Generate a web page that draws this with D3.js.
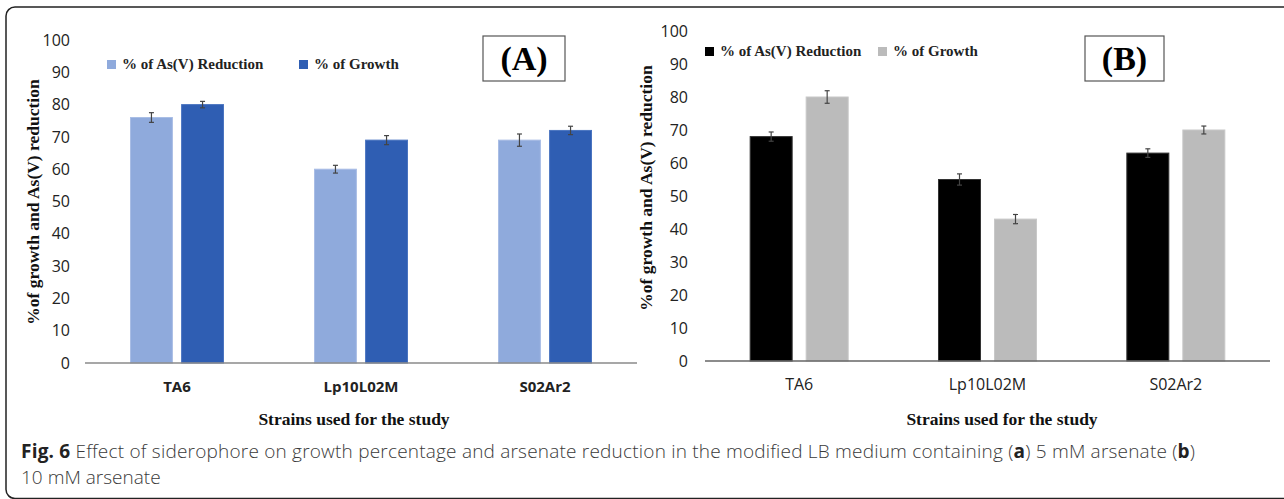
<!DOCTYPE html>
<html>
<head>
<meta charset="utf-8">
<script src="https://cdn.jsdelivr.net/npm/d3@7/dist/d3.min.js"></script>
<style>
  body { margin: 0; background: #fff; }
  svg { display: block; }
</style>
</head>
<body>
<svg id="fig" width="1284" height="499"></svg>
<script>
// strains on the x axis
const strains = ["TA6", "Lp10L02M", "S02Ar2"];
const seriesNames = ["% of As(V) Reduction", "% of Growth"];
const yTicks = [0, 10, 20, 30, 40, 50, 60, 70, 80, 90, 100];

// panel A (5 mM arsenate)
const reductionA = [76, 60, 69];
const reductionErrA = [1.5, 1.2, 1.9];
const growthA = [80, 69, 72];
const growthErrA = [1.0, 1.4, 1.3];

// panel B (10 mM arsenate)
const reductionB = [68, 55, 63];
const reductionErrB = [1.4, 1.7, 1.3];
const growthB = [80, 43, 70];
const growthErrB = [1.9, 1.4, 1.2];

const svg = d3.select("#fig");

// outer frame
svg.append("rect")
    .attr("x", 6).attr("y", 7)
    .attr("width", 1300).attr("height", 491.5)
    .attr("rx", 9)
    .attr("fill", "none")
    .attr("stroke", "#222")
    .attr("stroke-width", 1.5);

function drawPanel(opt) {
    let g = svg.append("g");

    let x = d3.scaleBand()
        .domain(strains)
        .range([opt.x0, opt.x1]);

    let inner = d3.scaleBand()
        .domain([0, 1])
        .range([x.bandwidth() / 2 - opt.group / 2, x.bandwidth() / 2 + opt.group / 2])
        .paddingInner(opt.gap);

    let y = d3.scaleLinear()
        .domain([0, 100])
        .range([opt.yBottom, opt.yTop]);

    // y tick labels (no axis line)
    let yAxis = d3.axisLeft(y).tickValues(yTicks).tickSize(0).tickPadding(0);
    let ya = g.append("g")
        .attr("transform", "translate(" + opt.labelX + ",0)")
        .call(yAxis);
    ya.select(".domain").remove();
    ya.selectAll("text")
        .attr("font-family", "'Open Sans', sans-serif")
        .attr("font-size", 16)
        .attr("fill", "#222");

    let rows = strains.map((s, i) => ({
        strain: s,
        vals: [
            { k: 0, v: opt.red[i], e: opt.redErr[i] },
            { k: 1, v: opt.gro[i], e: opt.groErr[i] }
        ]
    }));

    let grp = g.selectAll(".grp")
        .data(rows)
        .join("g")
        .attr("transform", d => "translate(" + x(d.strain) + ",0)");

    grp.selectAll("rect")
        .data(d => d.vals)
        .join("rect")
        .attr("x", d => inner(d.k))
        .attr("width", inner.bandwidth())
        .attr("y", d => y(d.v))
        .attr("height", d => y(0) - y(d.v))
        .attr("fill", d => opt.colors[d.k])
        .attr("stroke", d => opt.edge[d.k])
        .attr("stroke-width", 1);

    // error bars
    let eb = grp.selectAll(".err")
        .data(d => d.vals)
        .join("g")
        .attr("class", "err")
        .attr("stroke", "#444")
        .attr("stroke-width", 1.2);
    eb.append("line")
        .attr("x1", d => inner(d.k) + inner.bandwidth() / 2)
        .attr("x2", d => inner(d.k) + inner.bandwidth() / 2)
        .attr("y1", d => y(d.v + d.e))
        .attr("y2", d => y(d.v - d.e));
    [1, -1].forEach(sgn => {
        eb.append("line")
            .attr("x1", d => inner(d.k) + inner.bandwidth() / 2 - 2.5)
            .attr("x2", d => inner(d.k) + inner.bandwidth() / 2 + 2.5)
            .attr("y1", d => y(d.v + sgn * d.e))
            .attr("y2", d => y(d.v + sgn * d.e));
    });

    // baseline
    g.append("line")
        .attr("x1", opt.x0).attr("x2", opt.x1)
        .attr("y1", y(0)).attr("y2", y(0))
        .attr("stroke", opt.axisColor)
        .attr("stroke-width", 1.5);

    // x tick labels
    g.selectAll(".xl")
        .data(strains)
        .join("text")
        .attr("x", d => x(d) + x.bandwidth() / 2)
        .attr("y", opt.xLabelY)
        .attr("text-anchor", "middle")
        .attr("font-family", "'Open Sans', sans-serif")
        .attr("font-size", opt.xBold ? 15 : 16)
        .attr("font-weight", opt.xBold ? "bold" : "normal")
        .attr("fill", "#222")
        .text(d => d);

    // x title
    g.append("text")
        .attr("x", opt.xTitleX)
        .attr("y", 425)
        .attr("text-anchor", "middle")
        .attr("font-family", "'Liberation Serif', serif")
        .attr("font-weight", "bold")
        .attr("font-size", 17.5)
        .attr("fill", "#111")
        .text("Strains used for the study");

    // y title
    g.append("text")
        .attr("transform", "translate(" + opt.yTitleX + "," + opt.yTitleY + ") rotate(-90)")
        .attr("text-anchor", "middle")
        .attr("font-family", "'Liberation Serif', serif")
        .attr("font-weight", "bold")
        .attr("font-size", 17.5)
        .attr("fill", "#111")
        .text("%of growth and As(V) reduction");

    // legend
    let leg = g.selectAll(".leg")
        .data(seriesNames)
        .join("g")
        .attr("transform", (d, i) => "translate(" + opt.legX[i] + "," + opt.legY + ")");
    leg.append("rect")
        .attr("x", 0).attr("y", -9)
        .attr("width", 9).attr("height", 9)
        .attr("fill", (d, i) => opt.colors[i]);
    leg.append("text")
        .attr("x", 15)
        .attr("y", 0)
        .attr("font-family", "'Liberation Serif', serif")
        .attr("font-weight", "bold")
        .attr("font-size", 15)
        .attr("fill", "#222")
        .text(d => d);

    // panel tag box
    g.append("rect")
        .attr("x", opt.box[0]).attr("y", 36)
        .attr("width", opt.box[1]).attr("height", 45)
        .attr("fill", "#fff")
        .attr("stroke", "#555")
        .attr("stroke-width", 1.2);
    g.append("text")
        .attr("x", opt.box[0] + opt.box[1] / 2)
        .attr("y", 70)
        .attr("text-anchor", "middle")
        .attr("font-family", "'Liberation Serif', serif")
        .attr("font-weight", "bold")
        .attr("font-size", 34)
        .attr("fill", "#000")
        .text(opt.tag);
}

drawPanel({
    tag: "(A)",
    red: reductionA, redErr: reductionErrA, gro: growthA, groErr: growthErrA,
    x0: 85, x1: 637, group: 93, gap: 0.18,
    yTop: 40, yBottom: 363, labelX: 70,
    colors: ["#8faadc", "#2f5eb3"],
    edge: ["#a9bde5", "#4a74c0"],
    axisColor: "#8a8a8a",
    xBold: true, xLabelY: 392,
    xTitleX: 354, yTitleX: 39, yTitleY: 202,
    legX: [107, 299], legY: 69,
    box: [483, 82]
});

drawPanel({
    tag: "(B)",
    red: reductionB, redErr: reductionErrB, gro: growthB, groErr: growthErrB,
    x0: 705, x1: 1270, group: 98, gap: 0.25,
    yTop: 31, yBottom: 361, labelX: 688,
    colors: ["#000000", "#bbbbbb"],
    edge: ["#333333", "#c8c8c8"],
    axisColor: "#666",
    xBold: false, xLabelY: 390,
    xTitleX: 1002, yTitleX: 652, yTitleY: 188,
    legX: [705, 878], legY: 56,
    box: [1085, 79]
});

// caption
const caption = svg.append("g")
    .attr("font-family", "'Open Sans', sans-serif")
    .attr("font-size", 19)
    .attr("font-weight", 300)
    .attr("fill", "#3a3a3a");
let l1 = caption.append("text").attr("x", 21).attr("y", 458)
    .attr("textLength", 1174)
    .attr("lengthAdjust", "spacing");
l1.append("tspan").attr("font-weight", "bold").attr("fill", "#222").text("Fig. 6");
l1.append("tspan").text(" Effect of siderophore on growth percentage and arsenate reduction in the modified LB medium containing (");
l1.append("tspan").attr("font-weight", "bold").attr("fill", "#222").text("a");
l1.append("tspan").text(") 5 mM arsenate (");
l1.append("tspan").attr("font-weight", "bold").attr("fill", "#222").text("b");
l1.append("tspan").text(")");
caption.append("text").attr("x", 21).attr("y", 484).text("10 mM arsenate");
</script>
</body>
</html>
